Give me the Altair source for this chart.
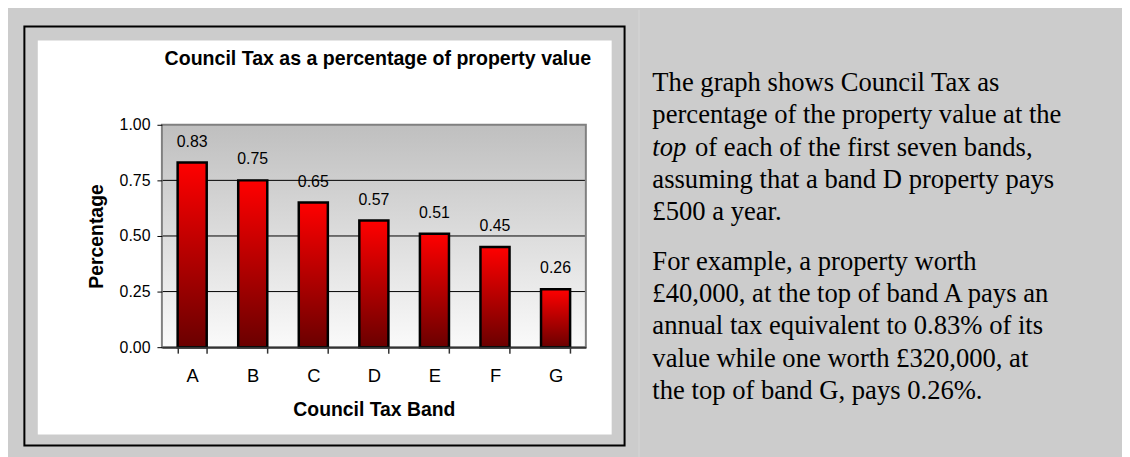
import altair as alt
import pandas as pd

# ---------------- data ----------------
bands = ["A", "B", "C", "D", "E", "F", "G"]
pct = [0.83, 0.75, 0.65, 0.57, 0.51, 0.45, 0.26]
y_ticks = [0.0, 0.25, 0.50, 0.75, 1.00]
grid_vals = [0.25, 0.50, 0.75]

chart_title = "Council Tax as a percentage of property value"
x_title = "Council Tax Band"
y_title = "Percentage"

para1 = [
    "The graph shows Council Tax as",
    "percentage of the property value at the",
    "top",
    "assuming that a band D property pays",
    "£500 a year.",
]
para1_line3_rest = "of each of the first seven bands,"
para2 = [
    "For example, a property worth",
    "£40,000, at the top of band A pays an",
    "annual tax equivalent to 0.83% of its",
    "value while one worth £320,000, at",
    "the top of band G, pays 0.26%.",
]

# ---------------- layout (pixels) ----------------
W, H = 427, 224            # plot area
PL, PT = 155, 116          # padding left/top -> plot origin on page = (163,124)
TOTAL_W, TOTAL_H = 1122, 449
OX, OY = 8 + PL, 8 + PT    # plot origin in page coordinates


def rx(px):
    return px - OX


def ry(py):
    return py - OY


SANS = "Liberation Sans"
SERIF = "Liberation Serif"
BG = "#cccccc"

df = pd.DataFrame({"band": bands, "pct": pct})
grid_df = pd.DataFrame({"pct": grid_vals})
one = pd.DataFrame({"k": [0]})

x_scale = alt.Scale(domain=bands, paddingInner=0.52, paddingOuter=0.26)
y_scale = alt.Scale(domain=[0, 1], nice=False, zero=True)

x_axis = alt.Axis(
    title=x_title, labelAngle=0, labelFontSize=18.5, labelFont=SANS,
    labelColor="#000000", labelPadding=14,
    tickBand="extent", tickSize=6, tickColor="#333333", tickWidth=1.5,
    domainColor="#333333", domainWidth=2,
    titleFont=SANS, titleFontSize=19.5, titleFontWeight="bold",
    titleColor="#000000", titleBaseline="alphabetic",
    titleY=69, titleX=W / 2, titleAnchor="middle", titleAlign="center",
    grid=False, zindex=1,
)
y_axis = alt.Axis(
    title=y_title, values=y_ticks, format=".2f",
    labelFontSize=16, labelFont=SANS, labelColor="#000000", labelPadding=7,
    tickSize=5, tickColor="#000000", tickWidth=1,
    domain=False, grid=False,
    titleFont=SANS, titleFontSize=19.5, titleFontWeight="bold",
    titleColor="#000000", titleBaseline="alphabetic", titleAngle=270,
    titleX=rx(103), titleY=H / 2, titleAlign="center", zindex=1,
)
x_enc = alt.X("band:N", sort=bands, scale=x_scale, axis=x_axis)
y_enc = alt.Y("pct:Q", scale=y_scale, axis=y_axis)

# --------- decorative frame ---------
frame = alt.Chart(one).mark_rect(fill=BG, stroke="#000000", strokeWidth=2).encode(
    x=alt.value(rx(24.5)), x2=alt.value(rx(629)),
    y=alt.value(ry(25)), y2=alt.value(ry(447)),
)
white_box = alt.Chart(one).mark_rect(fill="#ffffff").encode(
    x=alt.value(rx(38)), x2=alt.value(rx(616)),
    y=alt.value(ry(39)), y2=alt.value(ry(436)),
)
separator = alt.Chart(one).mark_rule(color="#d6d6d6", strokeWidth=1).encode(
    x=alt.value(rx(643.5)), y=alt.value(ry(8)), y2=alt.value(ry(470)),
)

plot_bg = alt.Chart(one).mark_rect(
    fill=alt.Gradient(
        gradient="linear",
        stops=[alt.GradientStop(color="#bfbfbf", offset=0),
               alt.GradientStop(color="#fafafa", offset=1)],
        x1=0, x2=0, y1=0, y2=1,
    )
).encode(x=alt.value(0), x2=alt.value(W), y=alt.value(0), y2=alt.value(H))

grid = alt.Chart(grid_df).mark_rule(color="#000000", strokeWidth=1).encode(
    y=y_enc, x=alt.value(0), x2=alt.value(W),
)

plot_border = alt.Chart(one).mark_rect(
    fill="#ffffff", fillOpacity=0, stroke="#808080", strokeWidth=2
).encode(x=alt.value(0), x2=alt.value(W), y=alt.value(0), y2=alt.value(H))

base = alt.Chart(df).encode(x=x_enc, y=y_enc)

bars = base.mark_bar(
    fill=alt.Gradient(
        gradient="linear",
        stops=[alt.GradientStop(color="#ff0000", offset=0),
               alt.GradientStop(color="#6a0000", offset=1)],
        x1=0, x2=0, y1=0, y2=1,
    ),
    stroke="#000000",
    strokeWidth=2.5,
)

labels = base.mark_text(
    font=SANS, fontSize=16, color="#000000", baseline="alphabetic", dy=-16
).encode(text=alt.Text("pct:Q", format=".2f"))

title_mark = alt.Chart(one).mark_text(
    font=SANS, fontSize=19.7, fontWeight="bold", color="#000000",
    baseline="alphabetic", align="center",
).encode(x=alt.value(rx(380.5)), y=alt.value(ry(64)), text=alt.value(chart_title))

# --------- paragraph text ---------
TX = 657
LH = 32.5
P1_Y = 90
P2_Y = 270
TEXT_SIZE = 26.8
text_layers = []
for i, line in enumerate(para1):
    style = "italic" if i == 2 else "normal"
    text_layers.append(
        alt.Chart(one).mark_text(
            font=SERIF, fontSize=TEXT_SIZE, fontStyle=style, color="#000000",
            align="left", baseline="alphabetic",
        ).encode(x=alt.value(rx(TX)), y=alt.value(ry(P1_Y + i * LH)), text=alt.value(line))
    )
text_layers.append(
    alt.Chart(one).mark_text(
        font=SERIF, fontSize=TEXT_SIZE, color="#000000",
        align="left", baseline="alphabetic",
    ).encode(x=alt.value(rx(TX + 43)), y=alt.value(ry(P1_Y + 2 * LH)), text=alt.value(para1_line3_rest))
)
for i, line in enumerate(para2):
    text_layers.append(
        alt.Chart(one).mark_text(
            font=SERIF, fontSize=TEXT_SIZE, color="#000000",
            align="left", baseline="alphabetic",
        ).encode(x=alt.value(rx(TX)), y=alt.value(ry(P2_Y + i * LH)), text=alt.value(line))
    )

chart = alt.layer(
    frame, white_box, separator, plot_bg, grid, plot_border, bars, labels, title_mark,
    *text_layers,
).properties(
    width=W, height=H,
    autosize=alt.AutoSizeParams(type="none"),
    padding={"left": PL, "top": PT, "right": TOTAL_W - PL - W, "bottom": TOTAL_H - PT - H},
    background=BG,
).configure_view(strokeWidth=0)

chart.save("out.html", embed_options={"renderer": "svg", "actions": False})
